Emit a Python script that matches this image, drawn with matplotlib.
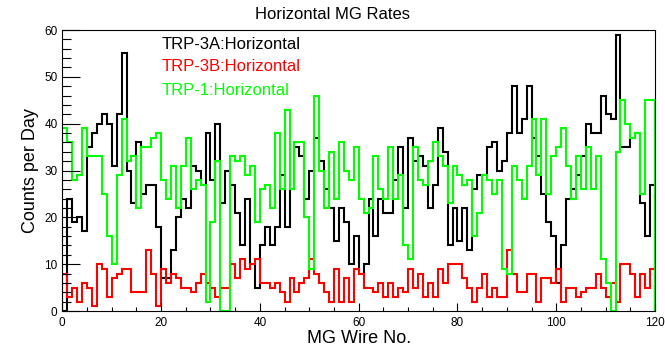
import matplotlib

matplotlib.use("Agg")
import matplotlib.pyplot as plt
import numpy as np
from matplotlib.ticker import MultipleLocator

plt.rcParams["font.family"] = ["Liberation Sans", "DejaVu Sans"]

# counts per day for each MG wire (120 bins, 0..120)
trp3a_horizontal = [
    0, 24, 19, 20, 17, 35, 38, 40, 42, 40, 31, 42, 55, 30, 23, 36, 25, 27, 27, 18,
    7, 7, 13, 20, 24, 22, 31, 30, 27, 38, 28, 40, 23, 30, 27, 21, 14, 24, 10, 5,
    14, 18, 14, 18, 29, 18, 26, 35, 33, 24, 30, 37, 32, 26, 22, 15, 22, 19, 10, 16,
    8, 10, 24, 16, 24, 21, 21, 28, 35, 22, 37, 32, 33, 31, 22, 27, 39, 34, 14, 22,
    15, 22, 13, 26, 29, 29, 35, 36, 30, 32, 38, 48, 38, 41, 48, 37, 33, 25, 19, 16,
    6, 14, 24, 26, 29, 33, 40, 38, 38, 46, 42, 41, 59, 35, 35, 37, 38, 23, 16, 27,
]
trp3b_horizontal = [
    8, 3, 5, 2, 6, 5, 1, 10, 9, 3, 7, 8, 9, 9, 4, 4, 4, 13, 8, 1,
    9, 6, 8, 7, 5, 5, 4, 6, 8, 6, 5, 3, 5, 5, 10, 7, 11, 9, 10, 11,
    6, 6, 5, 6, 4, 2, 7, 4, 6, 7, 11, 8, 6, 4, 2, 9, 2, 7, 2, 9,
    8, 5, 5, 4, 6, 3, 6, 3, 5, 4, 9, 5, 8, 3, 6, 3, 9, 6, 10, 10,
    10, 7, 5, 2, 5, 8, 3, 5, 3, 3, 13, 8, 4, 4, 8, 8, 2, 7, 7, 6,
    9, 2, 5, 5, 3, 4, 5, 5, 8, 5, 3, 6, 2, 10, 10, 8, 3, 8, 5, 9,
]
trp1_horizontal = [
    39, 36, 28, 29, 39, 33, 33, 33, 25, 16, 10, 29, 41, 32, 33, 22, 35, 35, 37, 38,
    28, 24, 31, 22, 31, 37, 26, 28, 27, 2, 19, 32, 0, 0, 33, 32, 33, 29, 31, 19,
    26, 27, 22, 38, 26, 43, 26, 36, 36, 20, 9, 46, 30, 22, 34, 24, 36, 30, 28, 35,
    24, 21, 22, 33, 26, 24, 35, 24, 29, 14, 11, 35, 28, 27, 32, 36, 33, 31, 23, 31,
    29, 27, 28, 16, 21, 29, 28, 25, 28, 9, 8, 31, 28, 24, 31, 41, 29, 41, 25, 33,
    35, 39, 31, 24, 33, 26, 35, 26, 33, 11, 6, 0, 34, 45, 40, 37, 38, 25, 45, 45,
]

SERIES = [
    ("TRP-3A:Horizontal", trp3a_horizontal, "#000000"),
    ("TRP-3B:Horizontal", trp3b_horizontal, "#ff0000"),
    ("TRP-1:Horizontal", trp1_horizontal, "#00ff00"),
]


def main() -> None:
    fig = plt.figure(figsize=(6.65, 3.47), dpi=100)
    ax = fig.add_axes([0.0937, 0.1037, 0.8913, 0.8098])

    edges = np.arange(len(trp3a_horizontal) + 1)
    for label, values, color in SERIES:
        ax.stairs(values, edges, baseline=0, color=color, linewidth=1.5, label=label)

    ax.set_xlim(0, 120)
    ax.set_ylim(0, 60)
    ax.xaxis.set_major_locator(MultipleLocator(20))
    ax.xaxis.set_minor_locator(MultipleLocator(5))
    ax.yaxis.set_major_locator(MultipleLocator(10))
    ax.yaxis.set_minor_locator(MultipleLocator(2))
    ax.tick_params(axis="both", which="both", direction="in", labelsize=8.5, width=0.8)
    ax.tick_params(axis="y", which="major", length=12.8, pad=3.5)
    ax.tick_params(axis="y", which="minor", length=6.4)
    ax.tick_params(axis="x", which="major", length=6.0, pad=4)
    ax.tick_params(axis="x", which="minor", length=3.0)
    for spine in ax.spines.values():
        spine.set_linewidth(0.8)

    ax.set_xlabel("MG Wire No.", fontsize=13)
    ax.set_ylabel("Counts per Day", fontsize=13)
    ax.xaxis.set_label_coords(0.5, -0.066)
    ax.yaxis.set_label_coords(-0.040, 0.5)

    fig.text(0.5, 0.958, "Horizontal MG Rates", ha="center", va="center", fontsize=12)

    legend_y = [0.873, 0.807, 0.738]
    for (label, _, color), y in zip(SERIES, legend_y):
        fig.text(0.2436, y, label, color=color, ha="left", va="center", fontsize=12)

    fig.savefig("out.png", dpi=100)
    plt.close(fig)


if __name__ == "__main__":
    main()
